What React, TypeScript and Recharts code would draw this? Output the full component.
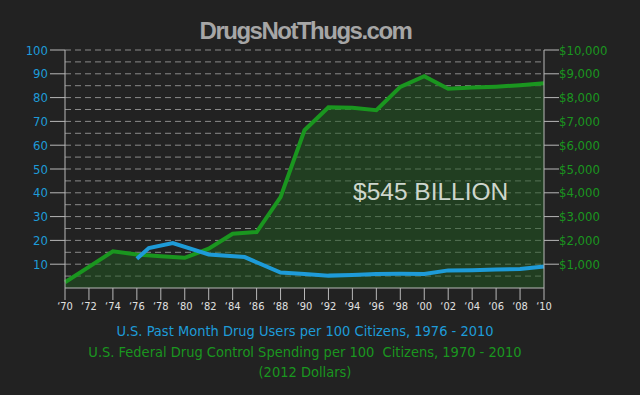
import React from "react";
import { ComposedChart, Area, Line, XAxis, YAxis, CartesianGrid } from "recharts";

// Federal drug control spending per 100 citizens (2012 dollars)
const spendingYears = [1970, 1972, 1974, 1976, 1978, 1980, 1982, 1984, 1986, 1988, 1990, 1992, 1994, 1996, 1998, 2000, 2002, 2004, 2006, 2008, 2010];
const spending = [240, 890, 1540, 1410, 1330, 1270, 1650, 2280, 2350, 3820, 6630, 7590, 7570, 7470, 8450, 8900, 8370, 8420, 8460, 8520, 8600];

// Past month drug users per 100 citizens
const userYears = [1976, 1977, 1979, 1982, 1985, 1988, 1990, 1992, 1994, 1996, 1998, 2000, 2002, 2004, 2006, 2008, 2010];
const users = [12.3, 16.8, 18.9, 14.1, 13.0, 6.5, 5.9, 5.2, 5.5, 5.9, 6.0, 5.9, 7.4, 7.5, 7.8, 8.0, 9.0];

const yearTicks = [1970, 1972, 1974, 1976, 1978, 1980, 1982, 1984, 1986, 1988, 1990, 1992, 1994, 1996, 1998, 2000, 2002, 2004, 2006, 2008, 2010];
const userTicks = [10, 20, 30, 40, 50, 60, 70, 80, 90, 100];
const dollarTicks = [1000, 2000, 3000, 4000, 5000, 6000, 7000, 8000, 9000, 10000];
const gridValues = [5, 10, 15, 20, 25, 30, 35, 40, 45, 50, 55, 60, 65, 70, 75, 80, 85, 90, 95, 100];

const allYears = Array.from(new Set([...spendingYears, ...userYears])).sort((a, b) => a - b);
const data = allYears.map((year) => {
  const si = spendingYears.indexOf(year);
  const ui = userYears.indexOf(year);
  return {
    year,
    spending: si >= 0 ? spending[si] : null,
    users: ui >= 0 ? users[ui] : null,
  };
});

const BLUE = "#1e9bd8";
const GREEN = "#1a961f";
const AXIS = "#b8b8b8";
const narrow = "'Liberation Sans Narrow', 'DejaVu Sans Condensed', sans-serif";

const fmtYear = (y: number) => "\u2018" + String(y).slice(2);
const fmtDollar = (v: number) => "$" + v.toLocaleString("en-US");

const legendLine: React.CSSProperties = {
  position: "absolute", left: 0, width: 610, textAlign: "center",
  fontFamily: narrow, fontSize: 14.5, lineHeight: "21px", whiteSpace: "pre",
};

export default function App() {
  return (
    <div style={{ position: "absolute", left: 0, top: 0, width: 640, height: 395, background: "#222222", overflow: "hidden" }}>
      <div
        style={{
          position: "absolute", left: 0, top: 17, width: 611, textAlign: "center",
          fontFamily: "'Liberation Sans', Arial, sans-serif", fontWeight: "bold",
          fontSize: 24, letterSpacing: -1.5, color: "#a6a6a6",
        }}
      >
        DrugsNotThugs.com
      </div>

      <ComposedChart width={640} height={320} data={data} margin={{ top: 50, right: 0, bottom: 0, left: 0 }}>
        <CartesianGrid
          yAxisId="left"
          vertical={false}
          horizontalValues={gridValues}
          stroke="#8a8a8a"
          strokeDasharray="6 4"
        />
        <XAxis
          dataKey="year"
          type="number"
          domain={[1970, 2010]}
          ticks={yearTicks}
          tickFormatter={fmtYear}
          height={32}
          tickSize={12}
          stroke={AXIS}
          tick={{ fill: "#e0e0e0", fontSize: 11, fontFamily: narrow }}
          interval={0}
        />
        <YAxis
          yAxisId="left"
          orientation="left"
          domain={[0, 100]}
          ticks={userTicks}
          width={65}
          tickSize={15}
          tickMargin={2}
          stroke={AXIS}
          tick={{ fill: BLUE, fontSize: 13, fontFamily: narrow }}
          interval={0}
        />
        <YAxis
          yAxisId="right"
          orientation="right"
          domain={[0, 10000]}
          ticks={dollarTicks}
          tickFormatter={fmtDollar}
          width={96}
          tickSize={15}
          tickMargin={0}
          stroke={AXIS}
          tick={{ fill: GREEN, fontSize: 13, fontFamily: narrow }}
          interval={0}
        />
        <Area
          yAxisId="right"
          dataKey="spending"
          type="linear"
          stroke={GREEN}
          strokeWidth={4}
          fill="#1f5a20"
          fillOpacity={0.5}
          connectNulls
          dot={false}
          activeDot={false}
          isAnimationActive={false}
        />
        <Line
          yAxisId="left"
          dataKey="users"
          type="linear"
          stroke={BLUE}
          strokeWidth={4}
          connectNulls
          dot={false}
          activeDot={false}
          isAnimationActive={false}
        />
      </ComposedChart>

      <div
        style={{
          position: "absolute", left: 353, top: 178, width: 160,
          fontFamily: "'Liberation Sans', Arial, sans-serif", fontSize: 24.5, color: "#cdd6cd",
          whiteSpace: "nowrap",
        }}
      >
        $545 BILLION
      </div>

      <div style={{ ...legendLine, top: 321, color: BLUE }}>
        U.S. Past Month Drug Users per 100 Citizens, 1976 - 2010
      </div>
      <div style={{ ...legendLine, top: 342, color: GREEN }}>
        U.S. Federal Drug Control Spending per 100  Citizens, 1970 - 2010
      </div>
      <div style={{ ...legendLine, top: 362, color: GREEN }}>
        (2012 Dollars)
      </div>
    </div>
  );
}
